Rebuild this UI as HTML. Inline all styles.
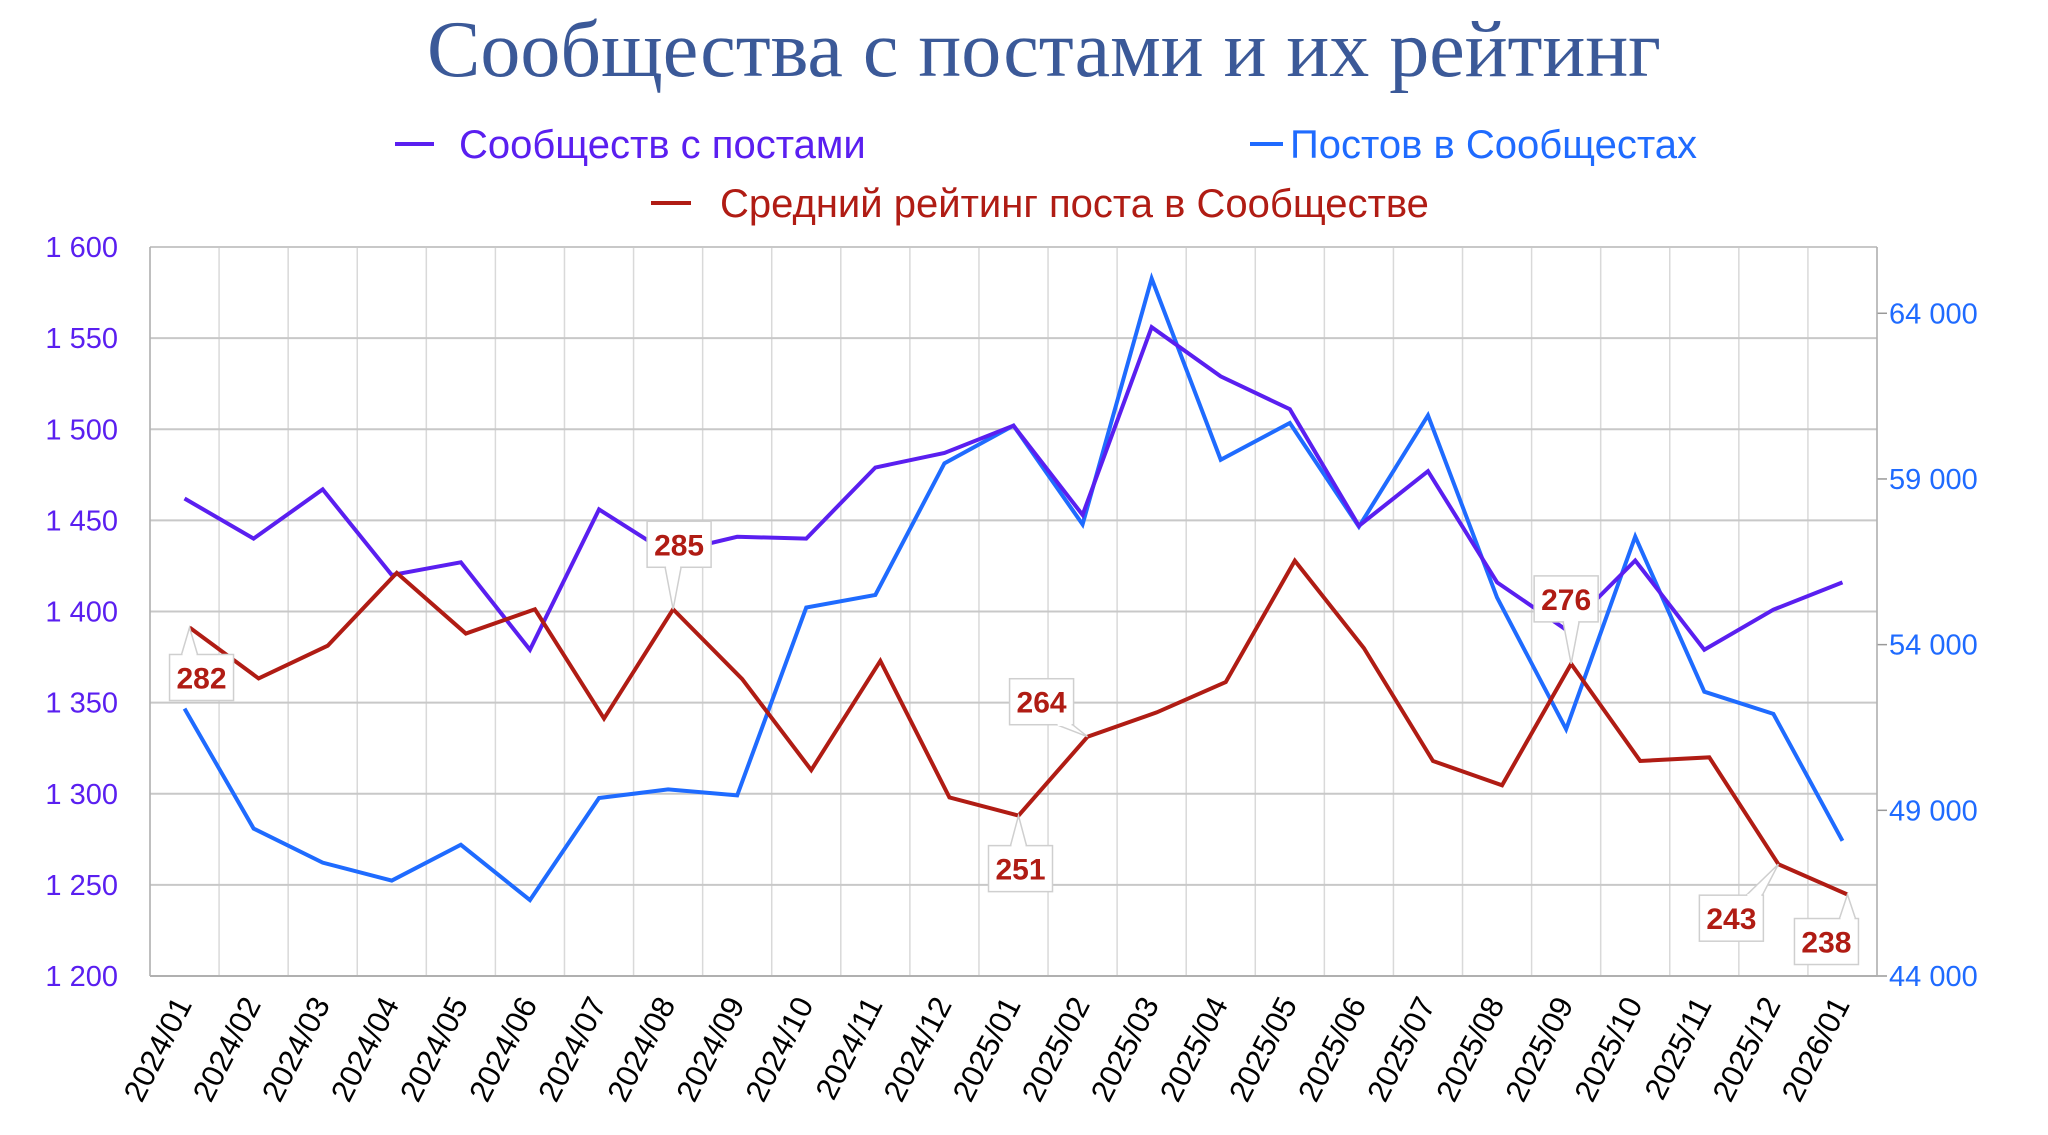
<!DOCTYPE html>
<html><head><meta charset="utf-8"><style>
body{margin:0;background:#fff;}
svg{display:block;}
</style></head><body>
<svg id="chart" width="2048" height="1135" viewBox="0 0 2048 1135" xmlns="http://www.w3.org/2000/svg">
<text x="1044" y="76" text-anchor="middle" font-family="Liberation Serif, serif" font-size="80" fill="#3b5998">Сообщества с постами и их рейтинг</text>
<g font-family="Liberation Sans, sans-serif" font-size="40">
<g><line x1="395" y1="144" x2="434" y2="144" stroke="#5a1ff0" stroke-width="4"/><text x="459" y="158" fill="#5a1ff0">Сообществ с постами</text></g>
<g><line x1="1250" y1="144" x2="1283" y2="144" stroke="#1f6bff" stroke-width="4"/><text x="1290" y="158" fill="#1f6bff">Постов в Сообщестах</text></g>
<g><line x1="651" y1="203" x2="691" y2="203" stroke="#b01c14" stroke-width="4"/><text x="720" y="217" fill="#b01c14">Средний рейтинг поста в Сообществе</text></g>
</g>
<g id="grid"></g>
<g id="axes"></g>
<g id="series"></g>
<g id="labels"></g>
</svg>
<script>
const categories = ["2024/01","2024/02","2024/03","2024/04","2024/05","2024/06","2024/07","2024/08","2024/09","2024/10","2024/11","2024/12","2025/01","2025/02","2025/03","2025/04","2025/05","2025/06","2025/07","2025/08","2025/09","2025/10","2025/11","2025/12","2026/01"];
const communities = [1462,1440,1467,1420,1427,1379,1456,1432,1441,1440,1479,1487,1502,1453,1556,1529,1511,1447,1477,1416,1390,1428,1379,1401,1416];
const posts = [52070,48450,47420,46880,47960,46290,49370,49630,49450,55120,55500,59470,60610,57630,65050,59580,60690,57560,60920,55420,51450,57260,52580,51910,48080];
const rating = [282,273.6,279,291,281,285,267,285,273.5,258.5,276.5,254,251,264,268,273,293,278.6,260,256,276,260,260.6,243,238];
const leftTicks = [1200,1250,1300,1350,1400,1450,1500,1550,1600];
const rightTicks = [44000,49000,54000,59000,64000];
const labelIdx = [0,7,12,13,20,23,24];

const NS="http://www.w3.org/2000/svg";
const labelDX=[12,6,2,-46,-5,-47,-21];
const labelDY=[50,-65,53,-35,-65,54,47];
const L=150,R=1877,T=247,B=976;
const cw=(R-L)/categories.length;
const xS=i=>L+cw*(i+0.5);
const yL=v=>B-(v-1200)/400*(B-T);
const yR=v=>B-(v-44000)/22000*(B-T);
const yRate=v=>yL(1288+(v-251)*3.33);
function mk(tag,attrs,parent){const e=document.createElementNS(NS,tag);for(const k in attrs)e.setAttribute(k,attrs[k]);parent.appendChild(e);return e;}
const grid=document.getElementById('grid'),axes=document.getElementById('axes'),ser=document.getElementById('series'),lab=document.getElementById('labels');
for(let i=0;i<=categories.length;i++){
  const x=L+cw*i;
  const g=mk('line',{x1:x,y1:T,x2:x,y2:B,stroke:'#d9d9d9','stroke-width':1.5},grid);
  
  
}
leftTicks.forEach(v=>{
  const y=yL(v);
  const g=mk('line',{x1:L,y1:y,x2:R,y2:y,stroke:'#c8c8c8','stroke-width':2},grid);
  
  
  const t=mk('text',{x:118,y:y+10,'text-anchor':'end','font-family':'Liberation Sans, sans-serif','font-size':29,fill:'#5a1ff0'},axes);
  t.textContent=v.toLocaleString('ru-RU').replace(/\s/g,' ');
  
  
});
rightTicks.forEach(v=>{
  const y=yR(v);
  mk('line',{x1:R,y1:y,x2:R+10,y2:y,stroke:'#999','stroke-width':1.5},axes);
  const t=mk('text',{x:1889,y:y+10,'font-family':'Liberation Sans, sans-serif','font-size':29,fill:'#1f6bff'},axes);
  t.textContent=v.toLocaleString('ru-RU').replace(/\s/g,' ');
  
  
});
mk('line',{x1:L,y1:T,x2:L,y2:B,stroke:'#b0b0b0','stroke-width':1.5},axes);
mk('line',{x1:R,y1:T,x2:R,y2:B,stroke:'#b0b0b0','stroke-width':1.5},axes);
mk('line',{x1:L,y1:B,x2:R,y2:B,stroke:'#b0b0b0','stroke-width':2},axes);
categories.forEach((c,i)=>{
  const x=xS(i)+8,y=1004;
  const t=mk('text',{x:x,y:y,'text-anchor':'end','font-family':'Liberation Sans, sans-serif','font-size':31,fill:'#000',transform:`rotate(-63 ${x} ${y})`},axes);
  t.textContent=c;
  
  
});
function line(vals,yf,color,name,dx){
  const p=mk('polyline',{points:vals.map((v,i)=>`${xS(i)+dx},${yf(v)}`).join(' '),fill:'none',stroke:color,'stroke-width':4,'stroke-linejoin':'miter'},ser);
  
  
}
line(posts,yR,'#1f6bff','posts-line',0);
line(communities,yL,'#5a1ff0','communities-line',0);
line(rating,yRate,'#b01c14','rating-line',5);
labelIdx.forEach((idx,k)=>{
  const px=xS(idx)+5,py=yRate(rating[idx]);
  const w=64,h=46;
  const cx=px+labelDX[k],cy=py+labelDY[k];
  const above=labelDY[k]<0;
  const by=above?cy+h/2:cy-h/2;
  const bx=Math.max(cx-w/2+9,Math.min(cx+w/2-9,px));
  const g=mk('g',{},lab);
  
  
  mk('polygon',{points:`${bx-8},${by} ${px},${py} ${bx+8},${by}`,fill:'#fff',stroke:'#cfcfcf','stroke-width':1.5},g);
  mk('rect',{x:cx-w/2,y:cy-h/2,width:w,height:h,fill:'#fff',stroke:'#cfcfcf','stroke-width':1.5},g);
  mk('line',{x1:bx-7,y1:by,x2:bx+7,y2:by,stroke:'#fff','stroke-width':2.5},g);
  const t=mk('text',{x:cx,y:cy+11,'text-anchor':'middle','font-family':'Liberation Sans, sans-serif','font-size':30,'font-weight':'bold',fill:'#b01c14'},g);
  t.textContent=Math.round(rating[idx]);
});
</script>
</body></html>
